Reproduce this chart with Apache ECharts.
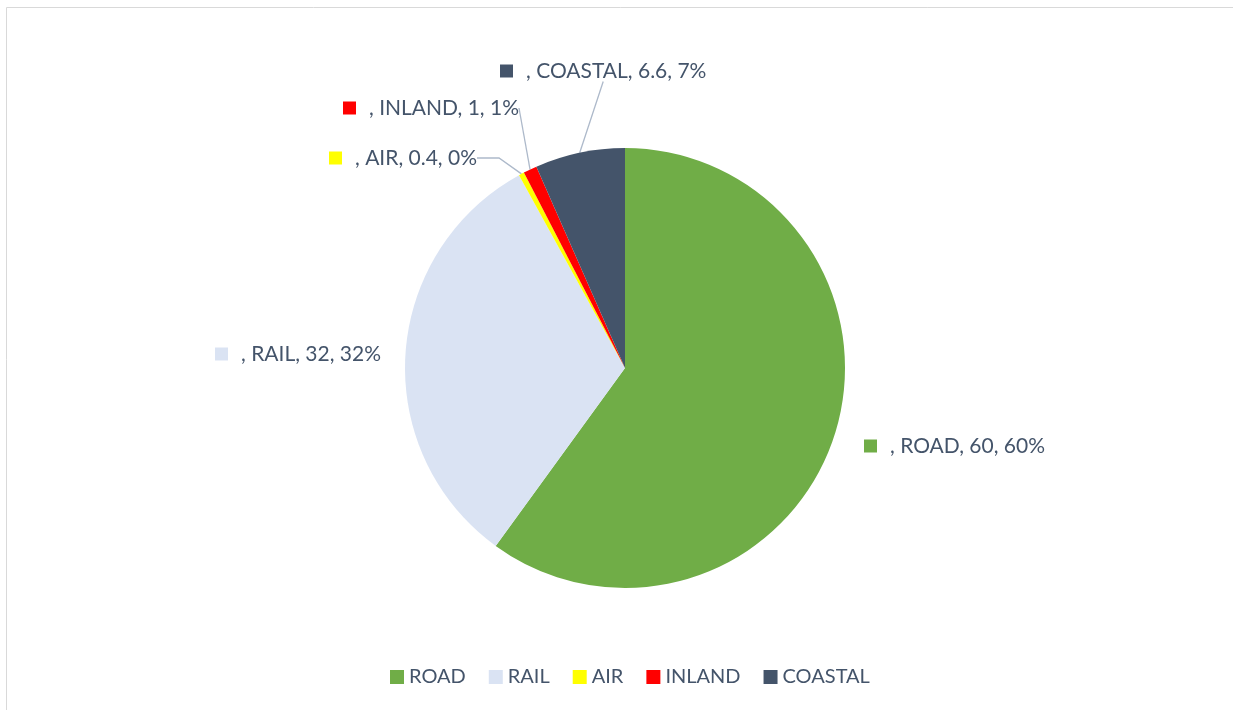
<!DOCTYPE html>
<html>
<head>
<meta charset="utf-8">
<script src="https://cdn.jsdelivr.net/npm/echarts@6/dist/echarts.min.js"></script>
<style>
	html,body{margin:0;padding:0;background:#fff;}
	#chartContainer{width:1233px;height:710px;}
</style>
</head>
<body>
<div id="chartContainer"></div>
<script>
// 运输方式及数值
var modes=['ROAD','RAIL','AIR','INLAND','COASTAL'];
var shares=[60,32,0.4,1,6.6];
var modeColors=['#70AD47','#DAE3F3','#FFFF00','#FF0000','#44546A'];

// 标签位置（小方块左边起点，垂直居中）
var labelPos=[[864,446],[215,354],[329,158],[343,108],[500,71]];

window.onload=function(){
	var dom=document.getElementById("chartContainer");
	var myChart=echarts.init(dom,null,{renderer:'canvas'});

	var rich={t:{fontFamily:'Lato',fontSize:21,color:'#44546A',padding:[0,0,0,13]}};
	var pieData=[];
	modes.forEach(function(name,i){
		rich['s'+i]={width:13,height:13,backgroundColor:modeColors[i]};
		var item={name:name,value:shares[i],itemStyle:{color:modeColors[i]}};
		if(i<2){
			item.labelLine={show:false};
		}
		else if(i==2){
			item.labelLine={show:true,length2:22};
		}
		pieData.push(item);
	});

	var option={
		animation:false,
		color:modeColors,
		graphic:[{
			type:'rect',
			shape:{x:6.5,y:7.5,width:1300,height:800},
			style:{fill:'none',stroke:'#D9D9D9',lineWidth:1},
			silent:true
		}],
		legend:{
			data:modes,
			left:385,
			top:662,
			itemWidth:14,
			itemHeight:14,
			itemGap:23,
			icon:'rect',
			textStyle:{fontFamily:'Lato',fontSize:20,color:'#44546A'}
		},
		series:[{
			type:'pie',
			center:[625,368],
			radius:220,
			startAngle:90,
			clockwise:true,
			percentPrecision:0,
			avoidLabelOverlap:false,
			emphasis:{disabled:true},
			data:pieData,
			label:{
				show:true,
				position:'outside',
				formatter:function(p){
					return '{s'+p.dataIndex+'|}{t|, '+p.name+', '+p.value+', '+p.percent+'%}';
				},
				rich:rich
			},
			labelLine:{
				show:true,
				length:10,
				length2:0,
				lineStyle:{color:'#ADB9CA',width:1.3}
			},
			labelLayout:function(params){
				var pos=labelPos[params.dataIndex];
				return {x:pos[0],y:pos[1],align:'left',verticalAlign:'middle'};
			}
		}]
	};
	myChart.setOption(option,true);
};
</script>
</body>
</html>
